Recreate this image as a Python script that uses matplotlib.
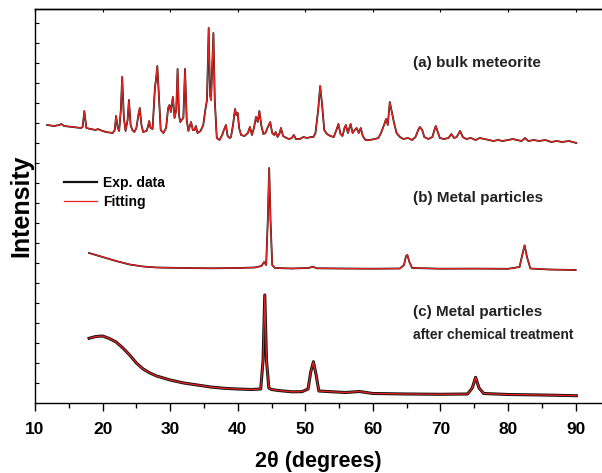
import matplotlib
matplotlib.use("Agg")
import matplotlib.pyplot as plt
from matplotlib.ticker import MultipleLocator
from matplotlib.lines import Line2D

plt.rcParams['font.family'] = ['Liberation Sans', 'DejaVu Sans']
plt.rcParams['font.weight'] = 'bold'

# (a) bulk meteorite, 2theta (deg) and intensity (a.u., offset included)
tt_a = [11.8, 12.8, 13.6, 13.9, 14.3, 15.5, 16.8, 17.05, 17.3, 17.6, 18.2, 19.0, 19.3, 19.6,
        20.5, 21.5, 21.8, 22.0, 22.25, 22.45, 22.7, 22.9, 23.15, 23.4, 23.7, 23.9, 24.15,
        24.4, 24.7, 25.0, 25.3, 25.5, 25.75, 26.0, 26.5, 26.7, 26.9, 27.1, 27.4, 27.6,
        27.75, 27.9, 28.1, 28.3, 28.6, 29.0, 29.4, 29.7, 29.9, 30.1, 30.4, 30.65, 30.9,
        31.1, 31.3, 31.5, 31.7, 31.95, 32.2, 32.45, 32.7, 32.9, 33.1, 33.35, 33.6, 33.8,
        34.05, 34.5, 34.9, 35.2, 35.45, 35.7, 35.9, 36.05, 36.4, 36.6, 36.9, 37.3, 37.7,
        37.95, 38.25, 38.5, 38.8, 39.0, 39.3, 39.6, 39.8, 40.0, 40.2, 40.5, 41.0, 41.5,
        41.8, 42.1, 42.4, 42.7, 42.95, 43.2, 43.5, 43.8, 44.1, 44.4, 44.8, 45.1, 45.4,
        45.6, 45.9, 46.2, 46.4, 46.7, 47.2, 47.6, 48.0, 48.3, 48.6, 49.2, 49.7, 50.3,
        50.8, 51.2, 51.5, 51.9, 52.2, 52.5, 52.8, 53.2, 53.7, 54.2, 54.6, 54.9, 55.2,
        55.5, 55.8, 56.0, 56.3, 56.7, 57.0, 57.3, 57.6, 57.9, 58.2, 58.5, 58.9, 59.5,
        60.3, 60.8, 61.2, 61.7, 61.95, 62.2, 62.5, 62.8, 63.1, 63.5, 64.0, 64.5, 65.2,
        65.8, 66.3, 66.7, 66.95, 67.3, 67.6, 68.2, 68.8, 69.1, 69.3, 69.6, 69.9, 70.5,
        71.2, 71.6, 72.0, 72.4, 72.9, 73.3, 73.8, 74.5, 75.2, 75.8, 76.5, 77.2, 77.8,
        78.5, 79.2, 80.0, 80.7, 81.3, 82.0, 82.5, 83.0, 83.8, 84.6, 85.5, 86.4, 87.2,
        88.0, 89.0, 90.1]
int_a = [278, 277, 278, 279, 277, 276, 275, 276, 292, 275, 274, 273, 274, 273,
         271, 270, 273, 287, 275, 272, 293, 326, 285, 272, 283, 303, 278,
         273, 271, 275, 288, 295, 278, 271, 272, 276, 282, 275, 274, 298,
         316, 323, 337, 311, 273, 270, 275, 295, 298, 291, 306, 285, 293,
         334, 288, 281, 283, 285, 334, 283, 272, 277, 281, 273, 273, 277,
         270, 272, 278, 293, 303, 375, 308, 303, 370, 303, 265, 263, 268,
         273, 278, 267, 265, 266, 278, 294, 288, 290, 275, 268, 267, 270,
         276, 268, 275, 286, 281, 292, 277, 269, 270, 275, 281, 270, 268,
         271, 266, 270, 275, 267, 265, 264, 265, 268, 264, 264, 266, 265,
         266, 266, 270, 293, 317, 297, 273, 269, 267, 266, 273, 279, 269,
         267, 275, 278, 270, 279, 270, 273, 275, 270, 275, 267, 263, 263,
         264, 265, 270, 279, 284, 278, 301, 291, 281, 270, 266, 264, 265,
         263, 266, 273, 276, 273, 266, 264, 266, 273, 277, 271, 265, 264,
         265, 269, 265, 266, 272, 266, 264, 265, 263, 265, 264, 263, 262,
         263, 262, 263, 264, 263, 262, 265, 262, 263, 262, 263, 261, 262,
         261, 262, 260]

# (b) metal particles
tt_b = [18.0, 19.0, 20.5, 22.0, 24.0, 26.0, 28.0, 32.0, 36.0, 40.0, 42.5, 43.5, 43.9, 44.2,
        44.45, 44.65, 44.85, 45.1, 45.5, 48.0, 50.5, 51.1, 51.7, 55.0, 60.0, 64.0, 64.6,
        64.9, 65.1, 65.4, 65.8, 70.0, 75.0, 80.0, 81.7, 82.1, 82.45, 82.8, 83.3, 86.0, 90.0]
int_b = [150, 148, 145, 142, 138.5, 136.5, 135.5, 135, 134.7, 135, 135.5, 137, 141, 138,
         183, 235, 183, 138, 135, 134.5, 135, 136.3, 134.7, 134.5, 134.3, 134.5, 138,
         147, 148, 141, 135, 134.3, 134.4, 134.2, 136, 148, 157.7, 146, 134.5, 133.5, 133]

# (c) metal particles after chemical treatment
tt_c = [18.0, 19.0, 20.0, 21.0, 22.0, 23.0, 24.0, 25.0, 26.0, 27.0, 28.0, 30.0, 32.0, 34.0,
        36.0, 38.0, 40.0, 42.0, 43.4, 43.75, 44.0, 44.25, 44.6, 45.0, 46.0, 48.0, 49.5,
        50.4, 50.8, 51.2, 51.6, 52.0, 54.0, 56.0, 58.0, 60.0, 65.0, 70.0, 74.0, 74.7,
        75.2, 75.7, 76.4, 80.0, 85.0, 90.1]
int_c = [64.7, 66.5, 67, 64.5, 61, 55, 48, 40, 34, 30, 27, 23, 20, 18,
         16, 14.7, 14, 13.5, 14, 43, 108, 43, 15, 13.5, 12.5, 11.2, 11.3,
         14, 31, 41.3, 28, 12, 11.2, 10.5, 11.5, 9.5, 9, 8.7, 9, 15,
         25.7, 15, 9.5, 8.5, 8, 7.3]

labels = ["(a) bulk meteorite", "(b) Metal particles", "(c) Metal particles"]
label_y = [340, 205, 91]

fig = plt.figure(figsize=(6.02, 4.73), dpi=100)
ax = fig.add_axes([35 / 602, 1 - 403 / 473, 1 - 35 / 602, (403 - 9) / 473])

red = '#e8231f'
for tt, yy, lwb in [(tt_a, int_a, 1.3), (tt_b, int_b, 1.3), (tt_c, int_c, 2.2)]:
    ax.plot(tt, yy, color='#111111', lw=lwb, solid_joinstyle='round')
    ax.plot(tt, yy, color=red, lw=0.9, solid_joinstyle='round')

for lab, y in zip(labels, label_y):
    ax.text(65.9, y, lab, fontsize=11, fontweight='bold', ha='left', va='center', color='#222222')
ax.text(65.9, 68, "after chemical treatment", fontsize=10, fontweight='bold',
        ha='left', va='center', color='#222222')

ax.set_xlim(10, 93.9)
ax.set_ylim(0, 394)
ax.xaxis.set_minor_locator(MultipleLocator(5))
ax.set_xticks(range(10, 91, 10))
ax.yaxis.set_major_locator(MultipleLocator(20))
ax.tick_params(axis='x', which='major', direction='out', length=6, width=1, labelsize=12.5, pad=8)
ax.tick_params(axis='x', which='minor', direction='out', length=3.5, width=1)
ax.tick_params(axis='y', which='major', direction='in', length=3, width=0.8, labelleft=False)
for lbl in ax.get_xticklabels():
    lbl.set_fontweight('bold')
ax.spines['right'].set_visible(False)
for s in ['left', 'bottom', 'top']:
    ax.spines[s].set_linewidth(1.0)

top = ax.secondary_xaxis('top')
top.set_xticks(range(10, 91, 10))
top.tick_params(direction='in', length=2.5, width=0.8, labeltop=False)
top.spines['top'].set_linewidth(1.0)

ax.set_ylabel("Intensity", fontsize=18, fontweight='bold', va='bottom')
ax.yaxis.set_label_coords(-0.003, 0.5)
ax.set_xlabel("2θ (degrees)", fontsize=15.5, fontweight='bold', labelpad=10)

handles = [Line2D([], [], color='#111111', lw=1.6), Line2D([], [], color=red, lw=0.9)]
fig.legend(handles, ["Exp. data", "Fitting"], loc='upper left',
           bbox_to_anchor=(64 / 602, 1 - 176 / 473), frameon=False,
           prop={'weight': 'bold', 'size': 10}, borderpad=0, borderaxespad=0,
           handlelength=2.4, handletextpad=0.4, labelspacing=0.35)

fig.savefig("out.png", dpi=100)
